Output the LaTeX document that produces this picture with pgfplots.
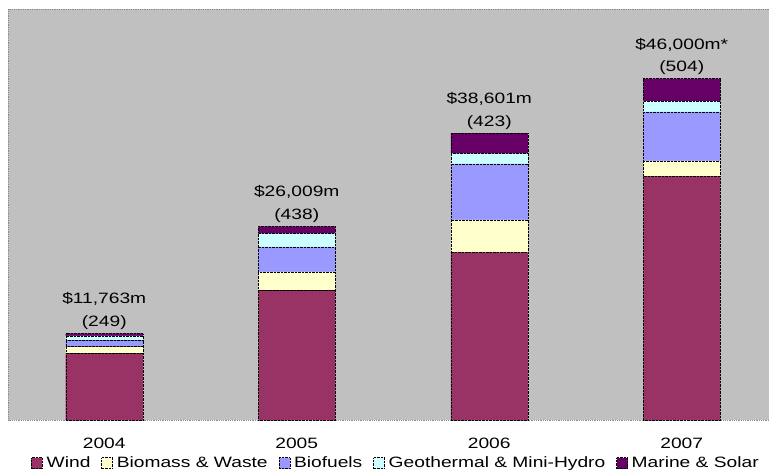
\documentclass[border=0pt]{standalone}
\usepackage{fontspec}
\setmainfont[FakeStretch=1.28]{Liberation Sans}
\usepackage{pgfplots}
\usepackage{pgfplotstable}
\pgfplotsset{compat=1.18}
\definecolor{wind}{HTML}{993366}
\definecolor{biomass}{HTML}{FFFFCC}
\definecolor{biofuels}{HTML}{9999FF}
\definecolor{geo}{HTML}{CCFFFF}
\definecolor{marine}{HTML}{660066}
\definecolor{bg}{HTML}{C0C0C0}
\pgfplotstableread{
x wind biomass biofuels geo marine
0 9065 890 863 580 364
1 17510 2523 3373 1848 944
2 22690 4357 7554 1443 2698
3 32943 2064 6610 1443 3049
}\datatable
\tikzset{barlab/.style={anchor=south, align=center, inner sep=0pt, yshift=3.8pt, font=\fontsize{15}{22.5}\selectfont}}
\begin{document}
\begin{tikzpicture}
\begin{axis}[
  at={(8pt,53.5pt)}, anchor=south west,
  scale only axis, width=770pt, height=411.5pt,
  ybar stacked, bar width=77pt,
  xmin=-0.5, xmax=3.5, ymin=0, ymax=55500,
  xtick={0,1,2,3}, xticklabels={2004,2005,2006,2007},
  ytick=\empty, major tick length=0pt,
  axis background/.style={fill=bg},
  axis line style={black!45, densely dotted, line width=0.8pt},
  tick label style={font=\fontsize{15}{18}\selectfont},
  xticklabel style={anchor=base, yshift=-28pt},
  legend style={at={(axis description cs:0.5039,-0.1033)}, anchor=center,
    draw=none, fill=none, font=\fontsize{15}{18}\selectfont,
    /tikz/every odd column/.append style={column sep=2pt},
    /tikz/every even column/.append style={column sep=9pt}},
  legend columns=5,
  legend image code/.code={\draw[#1,draw=black,densely dotted] (0pt,-5.5pt) rectangle (11pt,5.5pt);},
]
\addplot[fill=wind, draw=black, densely dotted] table[x=x,y=wind]{\datatable};
\addplot[fill=biomass, draw=black, densely dotted] table[x=x,y=biomass]{\datatable};
\addplot[fill=biofuels, draw=black, densely dotted] table[x=x,y=biofuels]{\datatable};
\addplot[fill=geo, draw=black, densely dotted] table[x=x,y=geo]{\datatable};
\addplot[fill=marine, draw=black, densely dotted] table[x=x,y=marine]{\datatable};
\legend{Wind,Biomass \& Waste,Biofuels,Geothermal \& Mini-Hydro,Marine \& Solar}
\node[barlab] at (axis cs:0,11762) {\$11,763m\\(249)};
\node[barlab] at (axis cs:1,26198) {\$26,009m\\(438)};
\node[barlab] at (axis cs:2,38742) {\$38,601m\\(423)};
\node[barlab] at (axis cs:3,46109) {\$46,000m*\\(504)};
\end{axis}
\pgfresetboundingbox
\useasboundingbox (0,0) rectangle (769pt,474pt);
\end{tikzpicture}
\end{document}
